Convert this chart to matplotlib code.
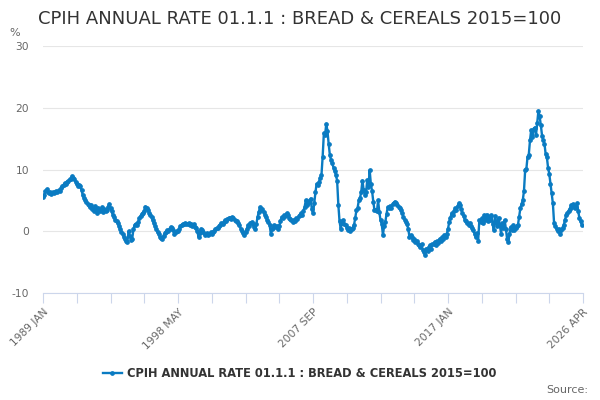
import numpy as np
import matplotlib
matplotlib.use("Agg")
import matplotlib.pyplot as plt

LINE  = "#0a7bc2"
TEXT  = "#333333"
MUTED = "#666666"
GRID  = "#e6e6e6"
AXIS  = "#ccd6eb"

# monthly annual rate, 1989 JAN .. 2026 APR (one row per year)
rate = [
    5.5, 5.9, 6.5, 6.8, 6.4, 6.2, 6.3, 6.1, 6.3, 6.2, 6.4, 6.5,        # 1989
    6.4, 6.6, 6.5, 7.0, 7.3, 7.5, 7.8, 7.7, 8.0, 8.2, 8.4, 8.5,        # 1990
    8.9, 8.7, 8.5, 8.0, 7.6, 7.4, 7.5, 7.3, 6.6, 5.8, 5.4, 5.0,        # 1991
    4.7, 4.4, 4.2, 3.9, 4.3, 3.6, 3.3, 4.1, 3.5, 3.0, 3.8, 3.2,        # 1992
    3.4, 3.9, 3.1, 3.6, 3.3, 3.5, 4.0, 4.4, 3.7, 3.2, 2.6, 2.3,        # 1993
    1.9, 1.6, 1.3, 0.9, 0.3, -0.1, -0.4, -0.9, -1.2, -1.5, -1.7, 0.0,  # 1994
    -0.8, -1.4, -1.2, 0.3, 1.0, 1.2, 1.0, 1.5, 2.2, 2.5, 2.8, 3.0,     # 1995
    3.3, 4.0, 3.7, 3.4, 3.0, 2.7, 2.3, 1.8, 1.3, 0.8, 0.3, -0.2,       # 1996
    -0.5, -0.9, -1.1, -1.2, -0.7, -0.3, -0.1, 0.2, 0.1, 0.4, 0.7, 0.5, # 1997
    0.2, -0.4, -0.2, 0.1, 0.0, 0.4, 0.8, 1.0, 1.2, 1.1, 1.35, 1.2,     # 1998
    1.1, 1.3, 1.0, 1.2, 0.9, 1.1, 0.7, 0.5, 0.0, -0.9, -0.3, 0.4,      # 1999
    0.2, -0.2, -0.6, -0.5, -0.3, -0.6, -0.4, -0.2, -0.4, -0.1, 0.1, 0.3,  # 2000
    0.5, 0.6, 0.9, 1.0, 1.3, 1.1, 1.5, 1.8, 1.7, 2.0, 2.1, 2.2,        # 2001
    2.0, 2.3, 2.1, 1.8, 1.6, 1.7, 1.4, 1.0, 0.4, 0.1, -0.3, -0.6,      # 2002
    -0.2, 0.3, 1.0, 0.8, 1.3, 1.5, 1.2, 0.7, 0.4, 1.2, 2.3, 3.1,       # 2003
    3.9, 3.5, 3.6, 3.1, 2.7, 2.3, 1.9, 1.5, 1.0, -0.4, 0.3, 0.6,       # 2004
    1.0, 0.7, 0.9, 0.4, 0.9, 1.6, 2.3, 2.1, 2.6, 2.4, 2.9, 2.6,        # 2005
    2.2, 2.0, 1.8, 1.5, 1.9, 1.7, 2.1, 2.0, 2.4, 2.6, 2.9, 2.7,        # 2006
    3.3, 3.9, 5.0, 4.2, 4.5, 4.9, 5.3, 3.6, 2.9, 4.5, 6.3, 7.7,        # 2007
    7.5, 8.0, 8.6, 9.1, 12.1, 15.9, 15.6, 17.4, 16.2, 14.1, 12.3, 11.5,  # 2008
    11.0, 10.3, 9.8, 9.1, 8.2, 4.3, 1.6, 0.4, 1.4, 1.8, 1.2, 1.0,      # 2009
    0.6, 0.2, 0.5, 0.1, 0.3, 0.6, 1.0, 2.1, 3.4, 3.8, 5.0, 5.4,        # 2010
    6.4, 8.2, 6.7, 5.9, 6.3, 8.3, 7.2, 9.9, 7.6, 6.5, 4.8, 3.4,        # 2011
    3.5, 3.2, 5.0, 3.1, 1.8, 1.2, -0.6, 0.9, 1.5, 2.8, 3.9, 3.7,       # 2012
    4.1, 3.8, 4.4, 4.6, 4.8, 4.5, 4.3, 4.0, 3.7, 3.4, 2.9, 2.3,        # 2013
    1.9, 1.5, 1.1, 0.4, -0.9, -0.6, -1.0, -1.4, -1.2, -1.7, -1.5, -2.0,  # 2014
    -2.3, -2.6, -2.1, -3.0, -3.3, -3.9, -2.8, -3.2, -2.6, -2.3, -2.8, -2.1,  # 2015
    -2.0, -1.7, -2.2, -1.6, -1.9, -1.2, -1.5, -1.0, -1.3, -0.6, -0.9, -0.4,  # 2016
    0.4, 1.5, 2.2, 2.9, 2.6, 3.3, 3.7, 3.4, 4.1, 4.5, 4.3, 3.6,        # 2017
    2.9, 2.4, 1.8, 1.6, 1.3, 1.0, 1.4, 0.8, 0.5, 0.2, -0.4, -1.0,      # 2018
    -0.3, -1.5, 1.8, 1.5, 2.1, 1.4, 2.6, 1.9, 2.7, 1.6, 2.3, 1.8,      # 2019
    2.6, 1.2, 0.2, 2.5, 1.5, 0.8, 2.2, 1.0, -0.4, 1.3, 0.6, 1.8,       # 2020
    0.4, -1.2, -1.7, -0.5, 0.7, 0.2, 1.0, 0.2, 0.5, 0.9, 1.0, 2.3,     # 2021
    3.7, 4.4, 5.0, 6.5, 9.9, 10.1, 12.1, 12.4, 14.7, 16.4, 15.2, 16.6,  # 2022
    16.8, 15.6, 17.5, 19.5, 18.6, 17.2, 15.5, 14.7, 14.2, 12.5, 12.0, 10.3,  # 2023
    9.3, 7.7, 6.2, 4.5, 1.3, 0.9, 0.4, 0.1, 0.3, -0.4, 0.2, 0.6,       # 2024
    1.0, 1.8, 2.6, 3.0, 3.3, 3.6, 4.2, 4.0, 4.4, 3.7, 3.9, 4.5,        # 2025
    3.3, 2.1, 1.6, 1.0,                                                # 2026
]
tick_labels = ["1989 JAN", "1998 MAY", "2007 SEP", "2017 JAN", "2026 APR"]
yticks = [-10, 0, 10, 20, 30]
series_name = "CPIH ANNUAL RATE 01.1.1 : BREAD & CEREALS 2015=100"

months = np.arange(len(rate))

fig = plt.figure(figsize=(6, 4), dpi=100, facecolor="white")
ax = fig.add_axes([0.0717, 0.2675, 0.9, 0.6175])

ax.plot(months, rate, color=LINE, lw=1.7, marker="o", ms=2.4,
        label=series_name, zorder=3)

ax.set_xlim(0, 448)
ax.set_ylim(-10, 30)
ax.set_yticks(yticks)
ax.set_yticklabels([str(v) for v in yticks], color=MUTED, fontsize=7.7)
ax.grid(axis="y", color=GRID, lw=0.8)
ax.set_axisbelow(True)

minor = np.arange(0, 449, 28)
ax.set_xticks(minor)
ax.set_xticklabels([tick_labels[k // 4] if k % 4 == 0 else "" for k in range(len(minor))],
                   rotation=45, ha="right", rotation_mode="anchor",
                   color=MUTED, fontsize=7.7)
ax.tick_params(axis="x", length=7, color=AXIS, width=0.8, pad=3)
ax.tick_params(axis="y", length=0, pad=10)

for s in ["top", "right", "left"]:
    ax.spines[s].set_visible(False)
ax.spines["bottom"].set_color(AXIS)
ax.spines["bottom"].set_linewidth(0.8)

fig.text(0.5, 0.953, series_name, ha="center", va="center",
         fontsize=13, color=TEXT)
fig.text(0.025, 0.918, "%", ha="center", va="center", fontsize=8, color=MUTED)
fig.text(0.98, 0.025, "Source:", ha="right", va="center", fontsize=8, color=MUTED)

leg = fig.legend(loc="center", bbox_to_anchor=(0.5, 0.067), frameon=False,
                 handlelength=1.6, handletextpad=0.5,
                 prop={"weight": "bold", "size": 8.3})
for t in leg.get_texts():
    t.set_color(TEXT)

fig.savefig("out.png", dpi=100, facecolor="white")
